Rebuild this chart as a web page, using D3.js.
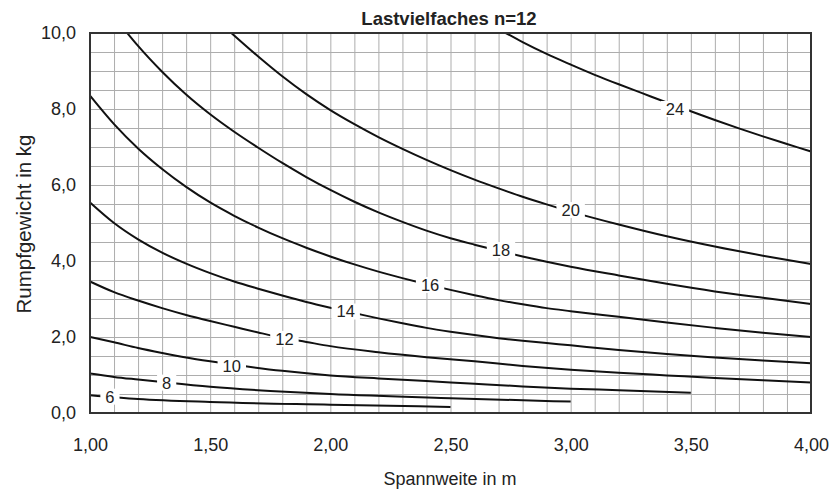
<!DOCTYPE html>
<html>
<head>
<meta charset="utf-8">
<title>Lastvielfaches n=12</title>
<script src="https://d3js.org/d3.v7.min.js"></script>
<style>
  body { margin: 0; background: #fff; }
  svg text { font-family: "Liberation Sans", Arial, sans-serif; fill: #222; }
</style>
</head>
<body>
<script>
// Spannweite (m) vs Rumpfgewicht (kg), one curve per label value
const curve6 = [[1.00,0.47],[1.20,0.37],[1.50,0.29],[2.00,0.22],[2.50,0.16]];
const curve8 = [[1.00,1.04],[1.10,0.95],[1.20,0.88],[1.32,0.80],[1.50,0.69],[1.75,0.58],
  [2.00,0.50],[2.50,0.39],[3.00,0.30]];
const curve10 = [[1.00,2.00],[1.10,1.86],[1.20,1.71],[1.30,1.58],[1.40,1.46],[1.50,1.36],
  [1.60,1.27],[1.80,1.11],[2.00,0.99],[2.20,0.91],[2.40,0.84],[2.60,0.77],[2.80,0.70],
  [3.00,0.64],[3.20,0.60],[3.50,0.53]];
const curve12 = [[1.00,3.46],[1.10,3.18],[1.20,2.96],[1.30,2.76],[1.40,2.58],[1.50,2.42],
  [1.60,2.27],[1.70,2.12],[1.80,1.98],[1.90,1.87],[2.00,1.76],[2.20,1.60],[2.40,1.47],
  [2.60,1.36],[2.80,1.24],[3.00,1.14],[3.20,1.06],[3.40,0.99],[3.60,0.92],[3.80,0.86],[4.00,0.80]];
const curve14 = [[1.00,5.54],[1.10,5.00],[1.20,4.57],[1.30,4.22],[1.40,3.93],[1.50,3.68],
  [1.60,3.46],[1.70,3.27],[1.80,3.09],[1.90,2.92],[2.00,2.77],[2.10,2.63],[2.20,2.49],
  [2.30,2.36],[2.40,2.24],[2.50,2.14],[2.60,2.05],[2.70,1.97],[2.80,1.90],[2.90,1.84],
  [3.00,1.78],[3.20,1.66],[3.40,1.55],[3.60,1.46],[3.80,1.38],[4.00,1.31]];
const curve16 = [[1.00,8.35],[1.10,7.60],[1.20,6.96],[1.30,6.42],[1.40,5.95],[1.50,5.54],
  [1.60,5.19],[1.70,4.88],[1.80,4.60],[1.90,4.35],[2.00,4.12],[2.10,3.91],[2.20,3.72],
  [2.30,3.55],[2.40,3.39],[2.50,3.24],[2.60,3.10],[2.70,2.97],[2.80,2.86],[2.90,2.76],
  [3.00,2.68],[3.20,2.53],[3.40,2.38],[3.60,2.24],[3.80,2.11],[4.00,2.00]];
const curve18 = [[1.155,10.0],[1.20,9.66],[1.30,8.98],[1.40,8.38],[1.50,7.86],[1.60,7.40],
  [1.70,6.98],[1.80,6.58],[1.90,6.21],[2.00,5.87],[2.10,5.56],[2.20,5.28],[2.30,5.03],
  [2.40,4.80],[2.50,4.60],[2.60,4.43],[2.70,4.27],[2.80,4.12],[2.90,3.98],[3.00,3.85],
  [3.20,3.62],[3.40,3.40],[3.60,3.20],[3.80,3.03],[4.00,2.87]];
const curve20 = [[1.588,10.0],[1.70,9.38],[1.80,8.86],[1.90,8.39],[2.00,7.97],[2.10,7.60],
  [2.20,7.26],[2.30,6.95],[2.40,6.66],[2.50,6.39],[2.60,6.14],[2.70,5.91],[2.80,5.69],
  [2.90,5.49],[3.00,5.30],[3.20,4.96],[3.40,4.65],[3.60,4.38],[3.80,4.14],[4.00,3.92]];
const curve24 = [[2.73,10.0],[2.80,9.76],[2.90,9.45],[3.00,9.17],[3.10,8.90],[3.20,8.65],
  [3.30,8.41],[3.40,8.17],[3.50,7.94],[3.60,7.71],[3.70,7.49],[3.80,7.28],[3.90,7.08],[4.00,6.88]];

const labelNames = ["6", "8", "10", "12", "14", "16", "18", "20", "24"];
const labelX = [1.083, 1.319, 1.590, 1.809, 2.064, 2.415, 2.710, 3.000, 3.434];
const labelY = [0.43, 0.80, 1.245, 1.95, 2.67, 3.37, 4.29, 5.34, 8.00];

const xTicks = [1.0, 1.5, 2.0, 2.5, 3.0, 3.5, 4.0];
const yTicks = [0, 2, 4, 6, 8, 10];

const curves = [curve6, curve8, curve10, curve12, curve14, curve16, curve18, curve20, curve24];

const W = 835, H = 491;
const margin = {top: 33, right: 24, bottom: 78, left: 90};
const w = W - margin.left - margin.right;
const h = H - margin.top - margin.bottom;

const de = d3.formatLocale({decimal: ",", thousands: ".", grouping: [3], currency: ["", " €"]});

const x = d3.scaleLinear().domain([1, 4]).range([0, w]);
const y = d3.scaleLinear().domain([0, 10]).range([h, 0]);

const svg = d3.select("body").append("svg")
  .attr("width", W)
  .attr("height", H);

const g = svg.append("g")
  .attr("transform", `translate(${margin.left},${margin.top})`);

// grid: every 0,1 m and every 0,5 kg
g.append("g")
  .attr("class", "grid-x")
  .attr("transform", `translate(0,${h})`)
  .call(d3.axisBottom(x).tickValues(d3.range(1, 31).map(i => 1 + i / 10)).tickSize(-h).tickFormat(""))
  .call(s => s.select(".domain").remove())
  .selectAll("line").attr("stroke", "#adadad").attr("stroke-width", 1);

g.append("g")
  .attr("class", "grid-y")
  .call(d3.axisLeft(y).tickValues(d3.range(1, 20).map(i => i / 2)).tickSize(-w).tickFormat(""))
  .call(s => s.select(".domain").remove())
  .selectAll("line").attr("stroke", "#adadad").attr("stroke-width", 1);

const line = d3.line()
  .x(d => x(d[0]))
  .y(d => y(d[1]))
  .curve(d3.curveMonotoneX);

g.append("g")
  .attr("class", "curves")
  .selectAll("path")
  .data(curves)
  .enter()
  .append("path")
  .attr("d", line)
  .attr("fill", "none")
  .attr("stroke", "#111")
  .attr("stroke-width", 2);

// curve labels sit in a white gap
const lbl = g.append("g").attr("class", "labels")
  .selectAll("g")
  .data(labelNames)
  .enter()
  .append("g")
  .attr("transform", (d, i) => `translate(${x(labelX[i])},${y(labelY[i])})`);

lbl.append("rect")
  .attr("x", d => -(d.length * 9.2 + 10) / 2)
  .attr("y", -8)
  .attr("width", d => d.length * 9.2 + 10)
  .attr("height", 16)
  .attr("fill", "#fff");

lbl.append("text")
  .attr("text-anchor", "middle")
  .attr("dy", "0.36em")
  .style("font-size", "16.5px")
  .text(d => d);

// frame
g.append("rect")
  .attr("width", w)
  .attr("height", h)
  .attr("fill", "none")
  .attr("stroke", "#333")
  .attr("stroke-width", 2);

const xAxis = d3.axisBottom(x).tickValues(xTicks).tickSize(0).tickPadding(0).tickFormat(de.format(".2f"));
g.append("g")
  .attr("class", "axis-x")
  .attr("transform", `translate(0,${h})`)
  .call(xAxis)
  .call(s => s.select(".domain").remove())
  .selectAll("text")
  .attr("y", 0)
  .attr("dy", 38)
  .style("font-size", "18px")
  .attr("fill", "#222");

const yAxis = d3.axisLeft(y).tickValues(yTicks).tickSize(0).tickPadding(14).tickFormat(de.format(".1f"));
g.append("g")
  .attr("class", "axis-y")
  .call(yAxis)
  .call(s => s.select(".domain").remove())
  .selectAll("text")
  .style("font-size", "18px")
  .attr("fill", "#222");

svg.selectAll(".axis-x, .axis-y").attr("font-family", "Liberation Sans, Arial, sans-serif");

svg.append("text")
  .attr("x", 449)
  .attr("y", 25)
  .attr("text-anchor", "middle")
  .style("font-size", "18.5px")
  .style("font-weight", "bold")
  .text("Lastvielfaches n=12");

svg.append("text")
  .attr("x", 450)
  .attr("y", 485)
  .attr("text-anchor", "middle")
  .style("font-size", "18px")
  .text("Spannweite in m");

svg.append("text")
  .attr("transform", "translate(31,224) rotate(-90)")
  .attr("text-anchor", "middle")
  .style("font-size", "20.5px")
  .text("Rumpfgewicht in kg");
</script>
</body>
</html>
